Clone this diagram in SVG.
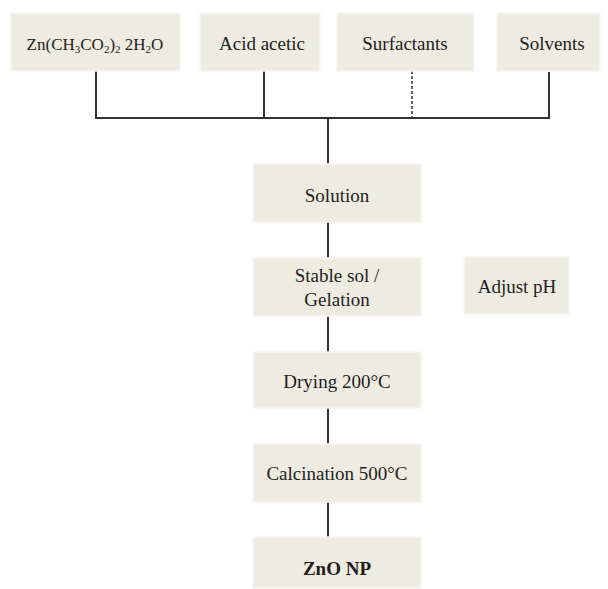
<svg xmlns="http://www.w3.org/2000/svg" width="608" height="589" viewBox="0 0 608 589">
<style>
.box{fill:#eeece1;stroke:#f6f5ef;stroke-width:1.5}
.t{font-family:"Liberation Serif","Times New Roman",serif;font-size:19px;fill:#1e1e1e;text-anchor:middle}
.c{stroke:#333;stroke-width:2;fill:none}
.d{stroke:#333;stroke-width:1.5;stroke-dasharray:3,2;fill:none}
</style>
<rect width="608" height="589" fill="#fff"/>
<g id="connectors">
<path class="c" d="M96 71V118H549V72M264 71V118M328 118V164M328 222V258M328 316V352M328 408V444M328 502V537"/>
<path class="d" d="M412 71V118"/>
</g>
<g id="n1"><rect class="box" x="11" y="13" width="169" height="58"/>
<text class="t" x="95" y="50" style="font-size:17px">Zn(CH<tspan font-size="11" dy="3">3</tspan><tspan dy="-3">CO</tspan><tspan font-size="11" dy="3">2</tspan><tspan dy="-3">)</tspan><tspan font-size="11" dy="3">2</tspan><tspan dy="-3"> 2H</tspan><tspan font-size="11" dy="3">2</tspan><tspan dy="-3">O</tspan></text></g>
<g id="n2"><rect class="box" x="200" y="13" width="120" height="58"/><text class="t" x="262" y="50">Acid acetic</text></g>
<g id="n3"><rect class="box" x="337" y="13" width="137" height="58"/><text class="t" x="405" y="50">Surfactants</text></g>
<g id="n4"><rect class="box" x="497" y="13" width="103" height="58"/><text class="t" x="552" y="50">Solvents</text></g>
<g id="n5"><rect class="box" x="253" y="164" width="168" height="58"/><text class="t" x="337" y="202">Solution</text></g>
<g id="n6"><rect class="box" x="253" y="258" width="168" height="58"/><text class="t" x="337" y="282">Stable sol /</text><text class="t" x="337" y="306">Gelation</text></g>
<g id="n7"><rect class="box" x="464" y="257" width="105" height="57"/><text class="t" x="517" y="293">Adjust pH</text></g>
<g id="n8"><rect class="box" x="253" y="352" width="168" height="56"/><text class="t" x="337" y="388">Drying 200°C</text></g>
<g id="n9"><rect class="box" x="253" y="444" width="168" height="58"/><text class="t" x="337" y="480">Calcination 500°C</text></g>
<g id="n10"><rect class="box" x="253" y="537" width="168" height="51"/><text class="t" x="337" y="575" font-weight="bold">ZnO NP</text></g>
</svg>
